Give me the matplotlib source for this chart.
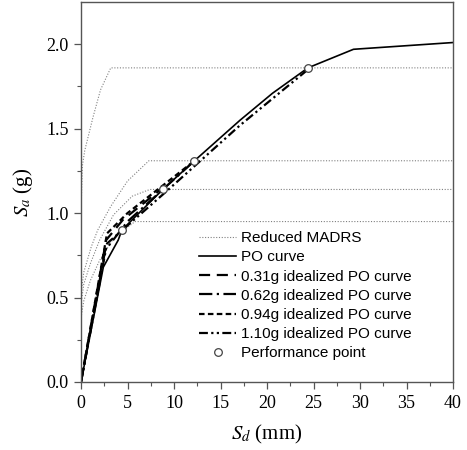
import matplotlib
matplotlib.use('Agg')
import matplotlib.pyplot as plt

plt.rcParams['font.family'] = 'Liberation Serif'
plt.rcParams['mathtext.fontset'] = 'stix'

# reduced MADRS demand curves (Sd in mm, Sa in g)
madrs_1_sd = [0, 0.05, 0.15, 0.4, 1.3, 2.1, 3.2, 40]
madrs_1_sa = [0.74, 1.10, 1.28, 1.37, 1.57, 1.73, 1.86, 1.86]
madrs_2_sd = [0, 0.3, 1.1, 1.8, 3.2, 5.0, 7.3, 40]
madrs_2_sa = [0.52, 0.65, 0.80, 0.90, 1.04, 1.19, 1.31, 1.31]
madrs_3_sd = [0, 0.3, 1.0, 2.0, 3.5, 5.5, 7.4, 40]
madrs_3_sa = [0.46, 0.58, 0.70, 0.84, 0.99, 1.10, 1.14, 1.14]
madrs_4_sd = [0, 0.3, 1.0, 2.0, 3.5, 5.8, 40]
madrs_4_sa = [0.38, 0.48, 0.60, 0.72, 0.85, 0.95, 0.95]

# pushover curve
po_sd = [0, 2.4, 4.0, 4.4, 8.8, 12.2, 17.1, 20.6, 24.4, 29.3, 40]
po_sa = [0, 0.68, 0.84, 0.90, 1.14, 1.31, 1.55, 1.71, 1.86, 1.97, 2.01]

# idealized PO curves
id031_sd = [0, 2.7, 4.5, 8.8]
id031_sa = [0, 0.84, 0.96, 1.15]
id062_sd = [0, 2.6, 5.0, 12.2]
id062_sa = [0, 0.78, 0.95, 1.31]
id094_sd = [0, 2.8, 5.0, 12.2]
id094_sa = [0, 0.88, 1.0, 1.31]
id110_sd = [0, 2.8, 8.8, 17.1, 24.4]
id110_sa = [0, 0.82, 1.11, 1.52, 1.85]

# performance points
pp_sd = [4.4, 8.8, 12.2, 24.4]
pp_sa = [0.90, 1.14, 1.31, 1.86]

fig = plt.figure(figsize=(4.67, 4.5), dpi=100)
ax = fig.add_axes([81/467, (450-382)/450, 372/467, 380/450])

mad = dict(color='#808080', linestyle=(0, (1, 1.5)), linewidth=0.8)
ax.plot(madrs_1_sd, madrs_1_sa, label='Reduced MADRS', **mad)
ax.plot(madrs_2_sd, madrs_2_sa, **mad)
ax.plot(madrs_3_sd, madrs_3_sa, **mad)
ax.plot(madrs_4_sd, madrs_4_sa, **mad)

ax.plot(po_sd, po_sa, color='black', linewidth=1.2, label='PO curve')
ax.plot(id031_sd, id031_sa, color='black', linewidth=1.6,
        linestyle=(0, (5, 3)), label='0.31g idealized PO curve')
ax.plot(id062_sd, id062_sa, color='black', linewidth=1.6,
        linestyle=(0, (6, 2, 1, 2)), label='0.62g idealized PO curve')
ax.plot(id094_sd, id094_sa, color='black', linewidth=1.6,
        linestyle=(0, (2.5, 1.5)), label='0.94g idealized PO curve')
ax.plot(id110_sd, id110_sa, color='black', linewidth=1.6,
        linestyle=(0, (4, 1.5, 1, 1.5, 1, 1.5)), label='1.10g idealized PO curve')
ax.plot(pp_sd, pp_sa, linestyle='none', marker='o', markersize=5.5,
        markerfacecolor='white', markeredgecolor='#444444', markeredgewidth=0.9,
        label='Performance point')

ax.set_xlim(0, 40)
ax.set_ylim(0, 2.25)
ax.set_xticks(range(0, 41, 5))
ax.set_xticks([i + 2.5 for i in range(0, 40, 5)], minor=True)
ax.set_yticks([0, 0.5, 1.0, 1.5, 2.0])
ax.set_yticks([0.25, 0.75, 1.25, 1.75], minor=True)
ax.set_yticklabels(['0.0', '0.5', '1.0', '1.5', '2.0'])

for s in ax.spines.values():
    s.set_color('#555555')
    s.set_linewidth(1.0)
ax.tick_params(direction='out', length=5, width=0.9, color='#555555',
               labelsize=13, pad=4)
ax.tick_params(which='minor', direction='out', length=3, width=0.8, color='#555555')

ax.set_xlabel(r'$S_d$ (mm)', fontsize=15, labelpad=8)
ax.set_ylabel(r'$S_a$ (g)', fontsize=15, labelpad=8)

leg = ax.legend(loc='upper left', bbox_to_anchor=(0.318, 0.397), frameon=False,
                prop={'family': 'Liberation Sans', 'size': 11},
                handlelength=2.4, handletextpad=0.3, labelspacing=0.34,
                borderpad=0, borderaxespad=0)

fig.savefig('out.png', dpi=100)
plt.close()
